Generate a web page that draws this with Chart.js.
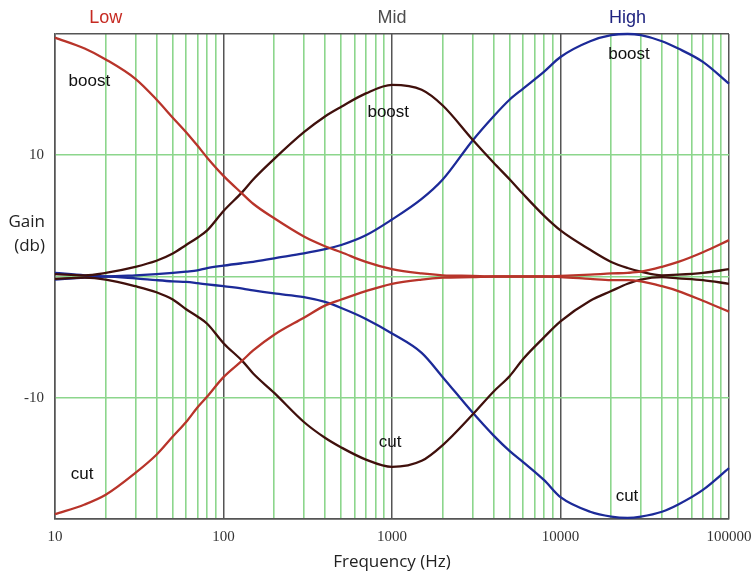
<!DOCTYPE html>
<html>
<head>
<meta charset="utf-8">
<script src="https://cdn.jsdelivr.net/npm/chart.js@4"></script>
<style>
  html, body { margin: 0; padding: 0; background: #ffffff; }
  #wrap { width: 751px; height: 575px; }
</style>
</head>
<body>
<div id="wrap"><canvas id="eq" width="751" height="575"></canvas></div>
<script>
// Frequency response of a three-band tone control (Low / Mid / High), boost and cut.
const frequencies = [10, 15, 20, 30, 40, 50, 60, 70, 80, 100, 130, 150, 200, 300, 400, 500, 700,
  1000, 1500, 2000, 3000, 4000, 5000, 6000, 8000, 10000, 15000, 20000, 25000, 30000, 40000,
  50000, 70000, 100000];

const lowBoost = [19.7, 18.8, 17.9, 16.3, 14.6, 13.1, 11.9, 10.8, 9.8, 8.3, 6.8, 6.0, 4.8, 3.3, 2.5,
  2.0, 1.2, 0.6, 0.25, 0.1, 0.05, 0, 0, 0, 0, 0.05, 0.15, 0.25, 0.3, 0.4, 0.8, 1.2, 2.0, 3.0];
const lowCut = [-19.6, -18.8, -18.0, -16.2, -14.7, -13.2, -12.0, -10.8, -9.9, -8.3, -6.9, -6.1, -4.8,
  -3.4, -2.4, -1.9, -1.2, -0.6, -0.25, -0.1, -0.05, 0, 0, 0, 0, -0.05, -0.2, -0.3, -0.3, -0.4, -0.8,
  -1.2, -2.0, -2.9];

const midBoost = [0.2, 0.1, 0.3, 0.8, 1.3, 1.9, 2.6, 3.2, 3.8, 5.4, 7.0, 8.0, 9.7, 11.9, 13.2, 14.0,
  15.1, 15.8, 15.4, 14.1, 11.3, 9.4, 8.0, 6.8, 5.0, 3.8, 2.2, 1.2, 0.7, 0.4, 0.1, 0.15, 0.3, 0.6];
const midCut = [-0.2, -0.1, -0.25, -0.8, -1.3, -1.9, -2.7, -3.3, -3.9, -5.5, -7.0, -8.0, -9.6, -12.0,
  -13.3, -14.1, -15.1, -15.7, -15.2, -13.9, -11.4, -9.5, -8.2, -6.8, -5.0, -3.7, -2.0, -1.2, -0.6,
  -0.25, -0.05, -0.15, -0.3, -0.6];

const highBoost = [0.3, 0.1, 0.0, 0.1, 0.2, 0.3, 0.4, 0.5, 0.7, 0.9, 1.1, 1.2, 1.5, 1.9, 2.25, 2.6,
  3.4, 4.7, 6.4, 8.0, 11.2, 13.2, 14.6, 15.5, 16.9, 18.1, 19.4, 19.9, 20.0, 19.9, 19.4, 18.8, 17.7, 15.9];
const highCut = [-0.25, -0.1, 0.0, -0.15, -0.3, -0.4, -0.45, -0.55, -0.65, -0.8, -1.0, -1.15, -1.4,
  -1.7, -2.1, -2.6, -3.5, -4.7, -6.3, -8.3, -11.2, -13.1, -14.4, -15.3, -16.8, -18.2, -19.4, -19.8,
  -19.9, -19.8, -19.4, -18.8, -17.6, -15.8];

// Axis ticks
const decadeTicks = [10, 100, 1000, 10000, 100000];
const gainTicks = [-20, -10, 0, 10, 20];
const gainTickLabels = [-10, 10];

// Band headings and curve captions (anchored in frequency / gain units)
const bandNames = ['Low', 'Mid', 'High'];
const bandCentres = [20, 1000, 25000];
const bandColours = ['#c62a22', '#4d4d4d', '#1f2480'];
const captions = [
  { text: 'boost', f: 16, g: 16.1 },
  { text: 'boost', f: 950, g: 13.55 },
  { text: 'boost', f: 25500, g: 18.35 },
  { text: 'cut', f: 14.5, g: -16.3 },
  { text: 'cut', f: 975, g: -13.7 },
  { text: 'cut', f: 24800, g: -18.1 }
];

const LOW = '#b8342a', MID = '#40100c', HIGH = '#1c2a98';
const GREEN = '#8cd68c', DARK = '#555555';

// Minor grid: every 1..9 multiple inside each decade
const gridFreqs = [];
decadeTicks.forEach((d, i) => {
  if (i === decadeTicks.length - 1) { gridFreqs.push(d); return; }
  for (let m = 1; m <= 9; m++) gridFreqs.push(d * m);
});

function series(values) {
  return values.map((v, i) => ({ x: frequencies[i], y: v }));
}
function ds(label, values, colour) {
  return {
    label, data: series(values), borderColor: colour, borderWidth: 2.3,
    pointRadius: 0, fill: false, cubicInterpolationMode: 'monotone', clip: 4
  };
}

const textPlugin = {
  id: 'eqText',
  afterDraw(chart) {
    const { ctx, scales: { x, y }, chartArea } = chart;
    ctx.save();
    ctx.textAlign = 'center';
    ctx.textBaseline = 'middle';
    // band headings
    ctx.font = '18px "Liberation Sans", Arial, sans-serif';
    bandNames.forEach((name, i) => {
      ctx.fillStyle = bandColours[i];
      ctx.fillText(name, x.getPixelForValue(bandCentres[i]), 18);
    });
    // curve captions
    ctx.font = '17px "Liberation Sans", Arial, sans-serif';
    ctx.fillStyle = '#111111';
    captions.forEach(c => ctx.fillText(c.text, x.getPixelForValue(c.f), y.getPixelForValue(c.g)));
    // axis titles
    ctx.font = '17px "Open Sans", sans-serif';
    ctx.fillStyle = '#222222';
    ctx.fillText('Frequency (Hz)', (chartArea.left + chartArea.right) / 2, 562);
    ctx.textAlign = 'right';
    ctx.fillText('Gain', 45, 222);
    ctx.fillText('(db)', 45, 246);
    ctx.restore();
  }
};

new Chart(document.getElementById('eq'), {
  type: 'line',
  data: {
    datasets: [
      ds('Low boost', lowBoost, LOW),
      ds('Low cut', lowCut, LOW),
      ds('Mid boost', midBoost, MID),
      ds('Mid cut', midCut, MID),
      ds('High boost', highBoost, HIGH),
      ds('High cut', highCut, HIGH)
    ]
  },
  options: {
    responsive: false,
    animation: false,
    layout: { padding: { top: 34, right: 22, left: 0, bottom: 0 } },
    plugins: { legend: { display: false }, tooltip: { enabled: false } },
    scales: {
      x: {
        type: 'logarithmic',
        min: 10, max: 100000,
        afterBuildTicks: s => { s.ticks = gridFreqs.map(v => ({ value: v, major: decadeTicks.includes(v) })); },
        afterFit: s => { s.height = 56; s.paddingLeft = 0; s.paddingRight = 0; },
        ticks: {
          autoSkip: false, maxRotation: 0, padding: 9,
          font: { family: '"Liberation Serif", "Times New Roman", serif', size: 15 },
          color: '#333333',
          callback: v => decadeTicks.includes(v) ? String(v) : ''
        },
        grid: {
          drawTicks: false,
          color: c => (c.tick && decadeTicks.includes(c.tick.value)) ? DARK : GREEN,
          lineWidth: c => (c.tick && decadeTicks.includes(c.tick.value)) ? 1.5 : 1.6
        },
        border: { display: true, color: DARK, width: 1.5 }
      },
      y: {
        type: 'linear',
        min: -20, max: 20,
        afterBuildTicks: s => { s.ticks = gainTicks.map(v => ({ value: v })); },
        afterFit: s => { s.width = 55; s.paddingTop = 0; s.paddingBottom = 0; },
        ticks: {
          padding: 11,
          font: { family: '"Liberation Serif", "Times New Roman", serif', size: 15 },
          color: '#333333',
          callback: v => gainTickLabels.includes(v) ? String(v) : ''
        },
        grid: {
          drawTicks: false,
          color: c => (c.tick && Math.abs(c.tick.value) === 20) ? DARK : GREEN,
          lineWidth: c => (c.tick && Math.abs(c.tick.value) === 20) ? 1.5 : 1.6
        },
        border: { display: true, color: DARK, width: 1.5 }
      }
    }
  },
  plugins: [textPlugin]
});
</script>
</body>
</html>
